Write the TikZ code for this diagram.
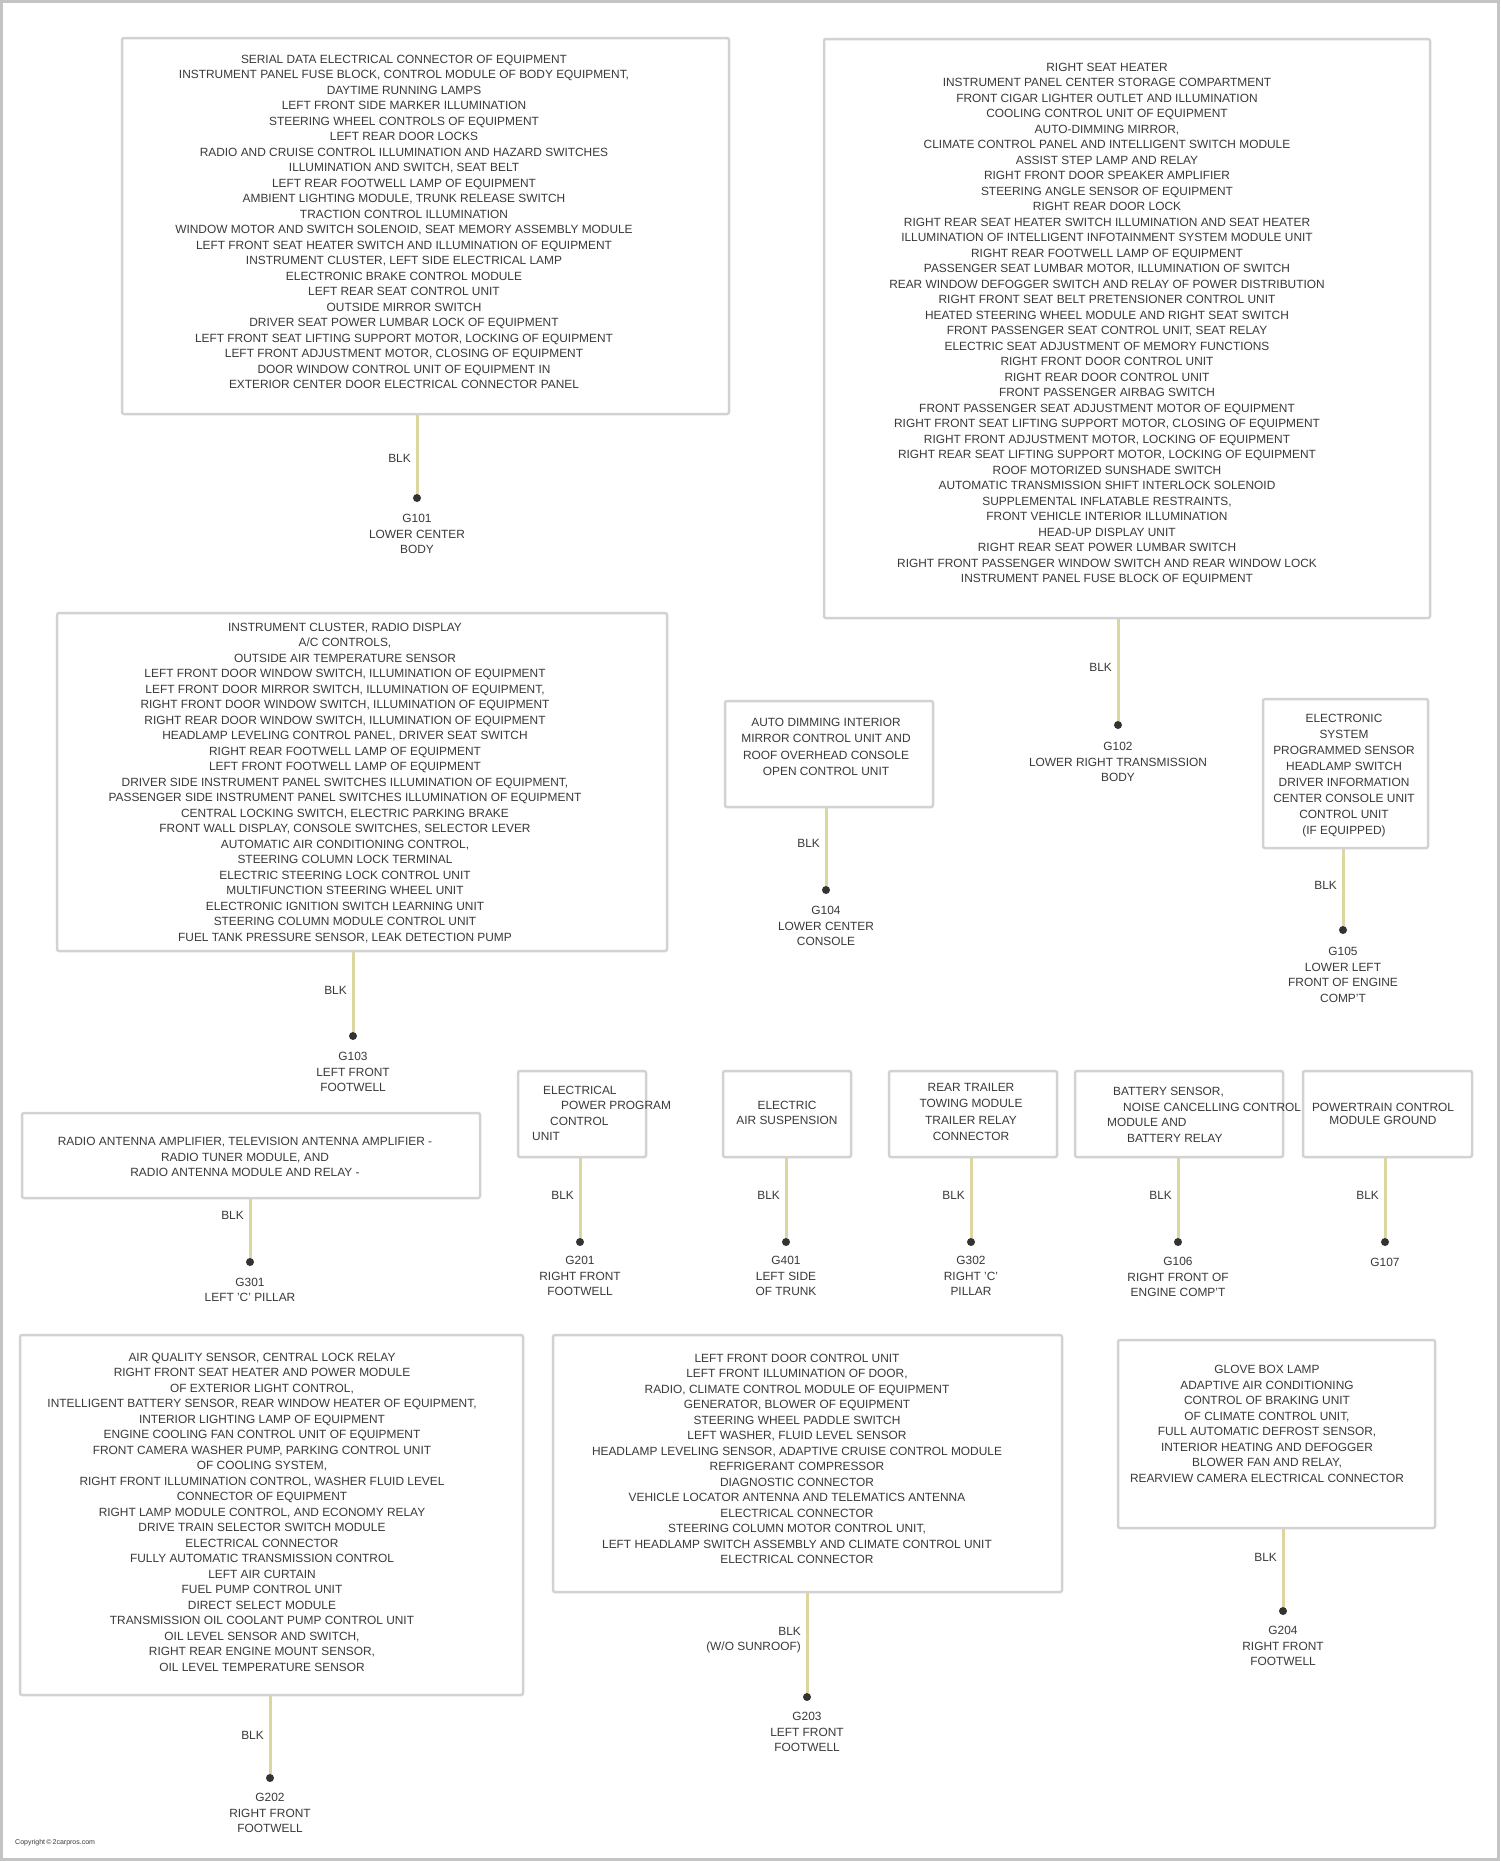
\documentclass[tikz,border=0pt]{standalone}
\usepackage{fontspec}
\setmainfont{Liberation Sans}
\usetikzlibrary{fit}
\definecolor{boxgray}{HTML}{D2D2D2}
\definecolor{txtgray}{HTML}{3A3A3A}
\definecolor{wirecol}{HTML}{DCD6A0}
\definecolor{framegray}{HTML}{C4C4C4}
\begin{document}
\begin{tikzpicture}[x=1pt,y=-1pt,
  box/.style={draw=boxgray, line width=2.5pt, rounded corners=2pt, inner sep=0pt, fill=white},
  btext/.style={align=center, inner sep=0pt, text=txtgray, font=\fontsize{11.9}{15.5}\selectfont},
  ltext/.style={anchor=west, inner sep=0pt, text=txtgray, font=\fontsize{11.9}{15.5}\selectfont},
  gtext/.style={align=center, inner sep=0pt, text=txtgray, font=\fontsize{11.9}{15.5}\selectfont},
  wlabel/.style={anchor=east, align=right, inner sep=0pt, text=txtgray, font=\fontsize{11.9}{15.5}\selectfont},
  gdot/.style={circle, fill=black!80, inner sep=0pt, minimum size=8pt},
  wire/.style={draw=wirecol, line width=3pt}]
\useasboundingbox (0,0) rectangle (1500,1861);
\fill[white] (0,0) rectangle (1500,1861);
\draw[framegray, line width=3pt] (1.5,1.5) rectangle (1498.5,1859.5);

% ---------- B1
\node[box, fit={(122,38) (729,414)}] (b1) {};
\node[btext] (t1) at (404,222) {SERIAL DATA ELECTRICAL CONNECTOR OF EQUIPMENT\\
INSTRUMENT PANEL FUSE BLOCK, CONTROL MODULE OF BODY EQUIPMENT,\\
DAYTIME RUNNING LAMPS\\
LEFT FRONT SIDE MARKER ILLUMINATION\\
STEERING WHEEL CONTROLS OF EQUIPMENT\\
LEFT REAR DOOR LOCKS\\
RADIO AND CRUISE CONTROL ILLUMINATION AND HAZARD SWITCHES\\
ILLUMINATION AND SWITCH, SEAT BELT\\
LEFT REAR FOOTWELL LAMP OF EQUIPMENT\\
AMBIENT LIGHTING MODULE, TRUNK RELEASE SWITCH\\
TRACTION CONTROL ILLUMINATION\\
WINDOW MOTOR AND SWITCH SOLENOID, SEAT MEMORY ASSEMBLY MODULE\\
LEFT FRONT SEAT HEATER SWITCH AND ILLUMINATION OF EQUIPMENT\\
INSTRUMENT CLUSTER, LEFT SIDE ELECTRICAL LAMP\\
ELECTRONIC BRAKE CONTROL MODULE\\
LEFT REAR SEAT CONTROL UNIT\\
OUTSIDE MIRROR SWITCH\\
DRIVER SEAT POWER LUMBAR LOCK OF EQUIPMENT\\
LEFT FRONT SEAT LIFTING SUPPORT MOTOR, LOCKING OF EQUIPMENT\\
LEFT FRONT ADJUSTMENT MOTOR, CLOSING OF EQUIPMENT\\
DOOR WINDOW CONTROL UNIT OF EQUIPMENT IN\\
EXTERIOR CENTER DOOR ELECTRICAL CONNECTOR PANEL};
\node[gdot] (g1) at (417,498) {};
\draw[wire] (b1.south -| g1) -- (g1);
\node[wlabel] (w1) at (411,458) {BLK};
\node[gtext] (l1) at (417,534) {G101\\LOWER CENTER\\BODY};

% ---------- B2
\node[box, fit={(824,39) (1430,618)}] (b2) {};
\node[btext] (t2) at (1107,324) {RIGHT SEAT HEATER\\
INSTRUMENT PANEL CENTER STORAGE COMPARTMENT\\
FRONT CIGAR LIGHTER OUTLET AND ILLUMINATION\\
COOLING CONTROL UNIT OF EQUIPMENT\\
AUTO-DIMMING MIRROR,\\
CLIMATE CONTROL PANEL AND INTELLIGENT SWITCH MODULE\\
ASSIST STEP LAMP AND RELAY\\
RIGHT FRONT DOOR SPEAKER AMPLIFIER\\
STEERING ANGLE SENSOR OF EQUIPMENT\\
RIGHT REAR DOOR LOCK\\
RIGHT REAR SEAT HEATER SWITCH ILLUMINATION AND SEAT HEATER\\
ILLUMINATION OF INTELLIGENT INFOTAINMENT SYSTEM MODULE UNIT\\
RIGHT REAR FOOTWELL LAMP OF EQUIPMENT\\
PASSENGER SEAT LUMBAR MOTOR, ILLUMINATION OF SWITCH\\
REAR WINDOW DEFOGGER SWITCH AND RELAY OF POWER DISTRIBUTION\\
RIGHT FRONT SEAT BELT PRETENSIONER CONTROL UNIT\\
HEATED STEERING WHEEL MODULE AND RIGHT SEAT SWITCH\\
FRONT PASSENGER SEAT CONTROL UNIT, SEAT RELAY\\
ELECTRIC SEAT ADJUSTMENT OF MEMORY FUNCTIONS\\
RIGHT FRONT DOOR CONTROL UNIT\\
RIGHT REAR DOOR CONTROL UNIT\\
FRONT PASSENGER AIRBAG SWITCH\\
FRONT PASSENGER SEAT ADJUSTMENT MOTOR OF EQUIPMENT\\
RIGHT FRONT SEAT LIFTING SUPPORT MOTOR, CLOSING OF EQUIPMENT\\
RIGHT FRONT ADJUSTMENT MOTOR, LOCKING OF EQUIPMENT\\
RIGHT REAR SEAT LIFTING SUPPORT MOTOR, LOCKING OF EQUIPMENT\\
ROOF MOTORIZED SUNSHADE SWITCH\\
AUTOMATIC TRANSMISSION SHIFT INTERLOCK SOLENOID\\
SUPPLEMENTAL INFLATABLE RESTRAINTS,\\
FRONT VEHICLE INTERIOR ILLUMINATION\\
HEAD-UP DISPLAY UNIT\\
RIGHT REAR SEAT POWER LUMBAR SWITCH\\
RIGHT FRONT PASSENGER WINDOW SWITCH AND REAR WINDOW LOCK\\
INSTRUMENT PANEL FUSE BLOCK OF EQUIPMENT};
\node[gdot] (g2) at (1118,725) {};
\draw[wire] (b2.south -| g2) -- (g2);
\node[wlabel] (w2) at (1112,667) {BLK};
\node[gtext] (l2) at (1118,762) {G102\\LOWER RIGHT TRANSMISSION\\BODY};

% ---------- B3
\node[box, fit={(57,613) (667,951)}] (b3) {};
\node[btext] (t3) at (345,783) {INSTRUMENT CLUSTER, RADIO DISPLAY\\
A/C CONTROLS,\\
OUTSIDE AIR TEMPERATURE SENSOR\\
LEFT FRONT DOOR WINDOW SWITCH, ILLUMINATION OF EQUIPMENT\\
LEFT FRONT DOOR MIRROR SWITCH, ILLUMINATION OF EQUIPMENT,\\
RIGHT FRONT DOOR WINDOW SWITCH, ILLUMINATION OF EQUIPMENT\\
RIGHT REAR DOOR WINDOW SWITCH, ILLUMINATION OF EQUIPMENT\\
HEADLAMP LEVELING CONTROL PANEL, DRIVER SEAT SWITCH\\
RIGHT REAR FOOTWELL LAMP OF EQUIPMENT\\
LEFT FRONT FOOTWELL LAMP OF EQUIPMENT\\
DRIVER SIDE INSTRUMENT PANEL SWITCHES ILLUMINATION OF EQUIPMENT,\\
PASSENGER SIDE INSTRUMENT PANEL SWITCHES ILLUMINATION OF EQUIPMENT\\
CENTRAL LOCKING SWITCH, ELECTRIC PARKING BRAKE\\
FRONT WALL DISPLAY, CONSOLE SWITCHES, SELECTOR LEVER\\
AUTOMATIC AIR CONDITIONING CONTROL,\\
STEERING COLUMN LOCK TERMINAL\\
ELECTRIC STEERING LOCK CONTROL UNIT\\
MULTIFUNCTION STEERING WHEEL UNIT\\
ELECTRONIC IGNITION SWITCH LEARNING UNIT\\
STEERING COLUMN MODULE CONTROL UNIT\\
FUEL TANK PRESSURE SENSOR, LEAK DETECTION PUMP};
\node[gdot] (g3) at (353,1036) {};
\draw[wire] (b3.south -| g3) -- (g3);
\node[wlabel] (w3) at (347,990) {BLK};
\node[gtext] (l3) at (353,1072) {G103\\LEFT FRONT\\FOOTWELL};

% ---------- B4
\node[box, fit={(725,701) (933,807)}] (b4) {};
\node[btext, font=\fontsize{11.9}{16.5}\selectfont] (t4) at (826,747) {AUTO DIMMING INTERIOR\\MIRROR CONTROL UNIT AND\\ROOF OVERHEAD CONSOLE\\OPEN CONTROL UNIT};
\node[gdot] (g4) at (826,890) {};
\draw[wire] (b4.south -| g4) -- (g4);
\node[wlabel] (w4) at (820,843) {BLK};
\node[gtext] (l4) at (826,926) {G104\\LOWER CENTER\\CONSOLE};

% ---------- B5
\node[box, fit={(1263,699) (1428,848)}] (b5) {};
\node[btext, font=\fontsize{11.9}{16}\selectfont] (t5) at (1344,776) {ELECTRONIC\\SYSTEM\\PROGRAMMED SENSOR\\HEADLAMP SWITCH\\DRIVER INFORMATION\\CENTER CONSOLE UNIT\\CONTROL UNIT\\(IF EQUIPPED)};
\node[gdot] (g5) at (1343,930) {};
\draw[wire] (b5.south -| g5) -- (g5);
\node[wlabel] (w5) at (1337,885) {BLK};
\node[gtext] (l5) at (1343,975) {G105\\LOWER LEFT\\FRONT OF ENGINE\\COMP'T};

% ---------- B6
\node[box, fit={(22,1113) (480,1198)}] (b6) {};
\node[btext] (t6) at (245,1157) {RADIO ANTENNA AMPLIFIER, TELEVISION ANTENNA AMPLIFIER -\\RADIO TUNER MODULE, AND\\RADIO ANTENNA MODULE AND RELAY -};
\node[gdot] (g6) at (250,1262) {};
\draw[wire] (b6.south -| g6) -- (g6);
\node[wlabel] (w6) at (244,1215) {BLK};
\node[gtext] (l6) at (250,1290) {G301\\LEFT 'C' PILLAR};

% ---------- B7
\node[box, fit={(518,1071) (646,1157)}] (b7) {};
\node[ltext] (t7a) at (543,1090) {ELECTRICAL};
\node[ltext] (t7b) at (561,1105) {POWER PROGRAM};
\node[ltext] (t7c) at (550,1121) {CONTROL};
\node[ltext] (t7d) at (532,1136) {UNIT};
\node[gdot] (g7) at (580,1242) {};
\draw[wire] (b7.south -| g7) -- (g7);
\node[wlabel] (w7) at (574,1195) {BLK};
\node[gtext] (l7) at (580,1276) {G201\\RIGHT FRONT\\FOOTWELL};

% ---------- B8
\node[box, fit={(723,1071) (851,1157)}] (b8) {};
\node[btext] (t8) at (787,1113) {ELECTRIC\\AIR SUSPENSION};
\node[gdot] (g8) at (786,1242) {};
\draw[wire] (b8.south -| g8) -- (g8);
\node[wlabel] (w8) at (780,1195) {BLK};
\node[gtext] (l8) at (786,1276) {G401\\LEFT SIDE\\OF TRUNK};

% ---------- B9
\node[box, fit={(889,1071) (1057,1157)}] (b9) {};
\node[btext, font=\fontsize{11.9}{16.3}\selectfont] (t9) at (971,1112) {REAR TRAILER\\TOWING MODULE\\TRAILER RELAY\\CONNECTOR};
\node[gdot] (g9) at (971,1242) {};
\draw[wire] (b9.south -| g9) -- (g9);
\node[wlabel] (w9) at (965,1195) {BLK};
\node[gtext] (l9) at (971,1276) {G302\\RIGHT 'C'\\PILLAR};

% ---------- B10
\node[box, fit={(1075,1071) (1283,1157)}] (b10) {};
\node[ltext] (t10a) at (1113,1092) {BATTERY SENSOR,};
\node[ltext] (t10b) at (1123,1107) {NOISE CANCELLING CONTROL};
\node[ltext] (t10c) at (1107,1122) {MODULE AND};
\node[ltext] (t10d) at (1127,1138) {BATTERY RELAY};
\node[gdot] (g10) at (1178,1242) {};
\draw[wire] (b10.south -| g10) -- (g10);
\node[wlabel] (w10) at (1172,1195) {BLK};
\node[gtext] (l10) at (1178,1277) {G106\\RIGHT FRONT OF\\ENGINE COMP'T};

% ---------- B11
\node[box, fit={(1303,1071) (1472,1157)}] (b11) {};
\node[btext, font=\fontsize{11.9}{13.5}\selectfont] (t11) at (1383,1114) {POWERTRAIN CONTROL\\MODULE GROUND};
\node[gdot] (g11) at (1385,1242) {};
\draw[wire] (b11.south -| g11) -- (g11);
\node[wlabel] (w11) at (1379,1195) {BLK};
\node[gtext] (l11) at (1385,1262) {G107};

% ---------- B12
\node[box, fit={(20,1335) (523,1695)}] (b12) {};
\node[btext] (t12) at (262,1512) {AIR QUALITY SENSOR, CENTRAL LOCK RELAY\\
RIGHT FRONT SEAT HEATER AND POWER MODULE\\
OF EXTERIOR LIGHT CONTROL,\\
INTELLIGENT BATTERY SENSOR, REAR WINDOW HEATER OF EQUIPMENT,\\
INTERIOR LIGHTING LAMP OF EQUIPMENT\\
ENGINE COOLING FAN CONTROL UNIT OF EQUIPMENT\\
FRONT CAMERA WASHER PUMP, PARKING CONTROL UNIT\\
OF COOLING SYSTEM,\\
RIGHT FRONT ILLUMINATION CONTROL, WASHER FLUID LEVEL\\
CONNECTOR OF EQUIPMENT\\
RIGHT LAMP MODULE CONTROL, AND ECONOMY RELAY\\
DRIVE TRAIN SELECTOR SWITCH MODULE\\
ELECTRICAL CONNECTOR\\
FULLY AUTOMATIC TRANSMISSION CONTROL\\
LEFT AIR CURTAIN\\
FUEL PUMP CONTROL UNIT\\
DIRECT SELECT MODULE\\
TRANSMISSION OIL COOLANT PUMP CONTROL UNIT\\
OIL LEVEL SENSOR AND SWITCH,\\
RIGHT REAR ENGINE MOUNT SENSOR,\\
OIL LEVEL TEMPERATURE SENSOR};
\node[gdot] (g12) at (270,1778) {};
\draw[wire] (b12.south -| g12) -- (g12);
\node[wlabel] (w12) at (264,1735) {BLK};
\node[gtext] (l12) at (270,1813) {G202\\RIGHT FRONT\\FOOTWELL};

% ---------- B13
\node[box, fit={(553,1335) (1062,1592)}] (b13) {};
\node[btext] (t13) at (797,1459) {LEFT FRONT DOOR CONTROL UNIT\\
LEFT FRONT ILLUMINATION OF DOOR,\\
RADIO, CLIMATE CONTROL MODULE OF EQUIPMENT\\
GENERATOR, BLOWER OF EQUIPMENT\\
STEERING WHEEL PADDLE SWITCH\\
LEFT WASHER, FLUID LEVEL SENSOR\\
HEADLAMP LEVELING SENSOR, ADAPTIVE CRUISE CONTROL MODULE\\
REFRIGERANT COMPRESSOR\\
DIAGNOSTIC CONNECTOR\\
VEHICLE LOCATOR ANTENNA AND TELEMATICS ANTENNA\\
ELECTRICAL CONNECTOR\\
STEERING COLUMN MOTOR CONTROL UNIT,\\
LEFT HEADLAMP SWITCH ASSEMBLY AND CLIMATE CONTROL UNIT\\
ELECTRICAL CONNECTOR};
\node[gdot] (g13) at (807,1697) {};
\draw[wire] (b13.south -| g13) -- (g13);
\node[wlabel] (w13) at (801,1640) {BLK\\(W/O SUNROOF)};
\node[gtext] (l13) at (807,1732) {G203\\LEFT FRONT\\FOOTWELL};

% ---------- B14
\node[box, fit={(1118,1340) (1435,1528)}] (b14) {};
\node[btext] (t14) at (1267,1424) {GLOVE BOX LAMP\\
ADAPTIVE AIR CONDITIONING\\
CONTROL OF BRAKING UNIT\\
OF CLIMATE CONTROL UNIT,\\
FULL AUTOMATIC DEFROST SENSOR,\\
INTERIOR HEATING AND DEFOGGER\\
BLOWER FAN AND RELAY,\\
REARVIEW CAMERA ELECTRICAL CONNECTOR};
\node[gdot] (g14) at (1283,1611) {};
\draw[wire] (b14.south -| g14) -- (g14);
\node[wlabel] (w14) at (1277,1557) {BLK};
\node[gtext] (l14) at (1283,1646) {G204\\RIGHT FRONT\\FOOTWELL};

% ---------- watermark
\node[anchor=west, inner sep=0pt, text=txtgray, font=\fontsize{7}{8}\selectfont] (wm) at (15,1843) {Copyright\,©\,2carpros.com};
\end{tikzpicture}
\end{document}
